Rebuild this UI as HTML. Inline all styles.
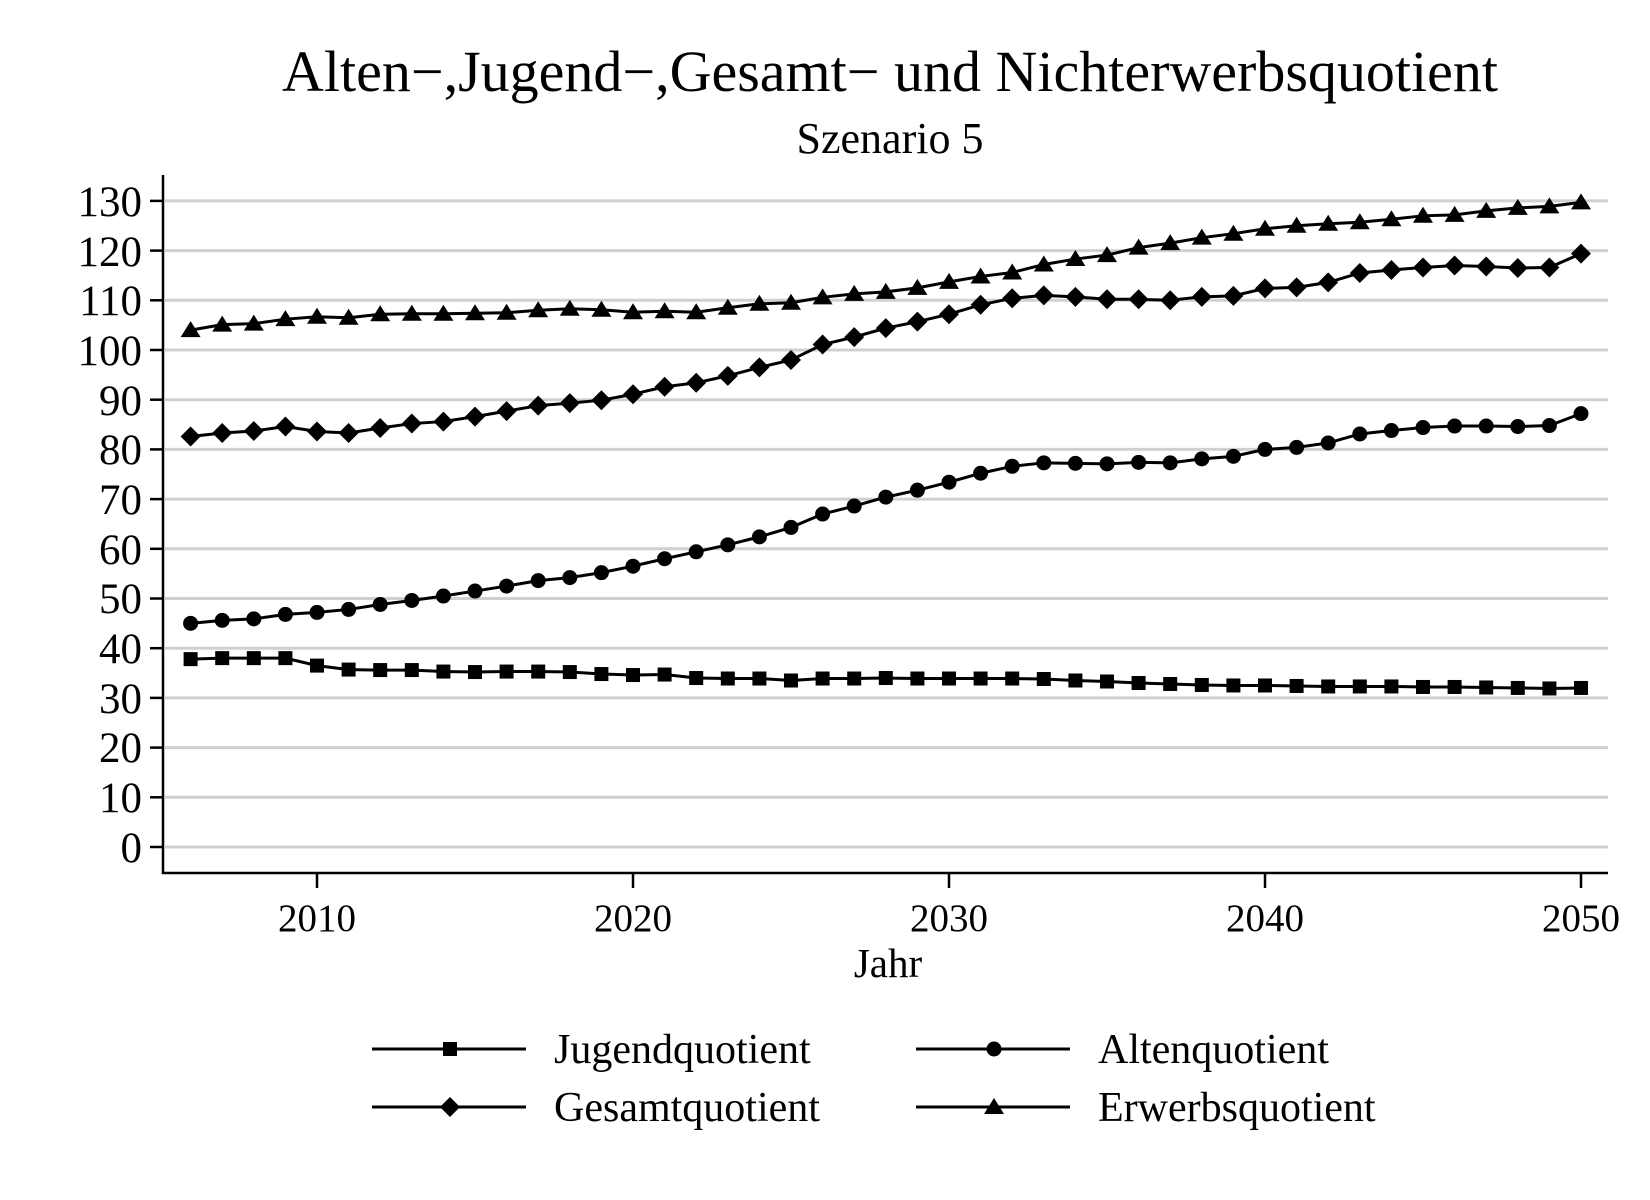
<!DOCTYPE html>
<html><head><meta charset="utf-8"><style>
html,body{margin:0;padding:0;background:#fff;}
svg{display:block;}
text{font-family:"Liberation Serif",serif;fill:#000;}
</style></head><body>
<svg id="s" width="1650" height="1200" viewBox="0 0 1650 1200" xmlns="http://www.w3.org/2000/svg">
<rect width="1650" height="1200" fill="#fff"/>
<text x="890" y="91" font-size="58" text-anchor="middle">Alten−,Jugend−,Gesamt− und Nichterwerbsquotient</text>
<text x="890" y="153" font-size="44" text-anchor="middle">Szenario 5</text>
<g id="grid"></g>
<line x1="163" y1="175" x2="163" y2="874" stroke="#000" stroke-width="2.5"/>
<line x1="162" y1="873" x2="1608" y2="873" stroke="#000" stroke-width="2.5"/>
<g font-size="43" text-anchor="end">
<text x="142" y="216">130</text><text x="142" y="266">120</text><text x="142" y="315">110</text><text x="142" y="365">100</text>
<text x="142" y="415">90</text><text x="142" y="464">80</text><text x="142" y="514">70</text><text x="142" y="564">60</text>
<text x="142" y="613">50</text><text x="142" y="663">40</text><text x="142" y="713">30</text><text x="142" y="762">20</text>
<text x="142" y="812">10</text><text x="142" y="862">0</text>
</g>
<g font-size="39" text-anchor="middle">
<text x="317" y="931">2010</text><text x="633" y="931">2020</text><text x="949" y="931">2030</text><text x="1265" y="931">2040</text><text x="1581" y="931">2050</text>
<text x="888" y="977" font-size="41">Jahr</text>
</g>
<g id="series"></g>
<g id="legend"></g>
<g font-size="42">
<text x="554" y="1063">Jugendquotient</text>
<text x="1098" y="1063">Altenquotient</text>
<text x="554" y="1121">Gesamtquotient</text>
<text x="1098" y="1121">Erwerbsquotient</text>
</g>
</svg>
<script>
const NS="http://www.w3.org/2000/svg";
function el(p,t,a){const e=document.createElementNS(NS,t);for(const k in a)e.setAttribute(k,a[k]);p.appendChild(e);return e;}
const Y=v=>847-v*4.97, X=y=>190.6+(y-2006)*31.6;
const g=document.getElementById('grid');
for(let v=0;v<=130;v+=10){el(g,'line',{x1:165,x2:1608,y1:Y(v),y2:Y(v),stroke:'#d0d0d0','stroke-width':3});el(g,'line',{x1:150,x2:163,y1:Y(v),y2:Y(v),stroke:'#000','stroke-width':2.5});}
for(let y=2010;y<=2050;y+=10)el(g,'line',{x1:X(y),x2:X(y),y1:873,y2:888,stroke:'#000','stroke-width':2.5});
const D={
sq:[37.8,38,38,38,36.5,35.7,35.6,35.6,35.3,35.2,35.3,35.3,35.2,34.8,34.6,34.7,34,33.9,33.9,33.5,33.9,33.9,34,33.9,33.9,33.9,33.9,33.8,33.5,33.3,33,32.8,32.6,32.5,32.5,32.4,32.3,32.3,32.3,32.2,32.2,32.1,32,31.9,32],
ci:[45,45.6,45.9,46.8,47.2,47.8,48.8,49.6,50.5,51.5,52.5,53.6,54.2,55.2,56.5,58,59.4,60.8,62.4,64.3,67,68.6,70.4,71.8,73.4,75.2,76.6,77.3,77.2,77.1,77.4,77.3,78.1,78.6,80,80.4,81.3,83.1,83.8,84.4,84.7,84.7,84.6,84.8,87.2],
di:[82.6,83.3,83.7,84.6,83.6,83.3,84.3,85.2,85.6,86.6,87.7,88.8,89.3,89.9,91.1,92.6,93.4,94.8,96.5,98,101.1,102.6,104.4,105.7,107.2,109.1,110.4,111,110.7,110.2,110.2,110,110.7,110.9,112.4,112.6,113.6,115.5,116.1,116.6,117,116.8,116.5,116.6,119.4],
tr:[104,105.1,105.3,106.2,106.7,106.5,107.2,107.3,107.3,107.4,107.5,108,108.3,108.1,107.6,107.8,107.6,108.5,109.3,109.5,110.6,111.3,111.7,112.5,113.7,114.8,115.6,117.2,118.3,119.1,120.6,121.5,122.6,123.4,124.4,125,125.4,125.7,126.3,127,127.2,128,128.6,128.9,129.7]};
function mk(p,t,x,y){
 if(t=='sq')el(p,'rect',{x:x-7,y:y-7,width:14,height:14});
 else if(t=='ci')el(p,'circle',{cx:x,cy:y,r:7.5});
 else if(t=='di')el(p,'polygon',{points:`${x},${y-10} ${x+10},${y} ${x},${y+10} ${x-10},${y}`});
 else el(p,'polygon',{points:`${x},${y-9} ${x+10},${y+7} ${x-10},${y+7}`});
}
const s=document.getElementById('series');
for(const k in D){const pts=D[k].map((v,i)=>[X(2006+i),Y(v)]);
 el(s,'polyline',{points:pts.map(p=>p.join(',')).join(' '),fill:'none',stroke:'#000','stroke-width':3});
 pts.forEach(p=>mk(s,k,p[0],p[1]));}
const L=document.getElementById('legend');
[['sq',372,526,450,1049],['ci',916,1070,994,1049],['di',372,526,450,1107],['tr',916,1070,994,1107]].forEach(a=>{
 el(L,'line',{x1:a[1],x2:a[2],y1:a[4],y2:a[4],stroke:'#000','stroke-width':3});mk(L,a[0],a[3],a[4]);});
</script>
</body></html>
